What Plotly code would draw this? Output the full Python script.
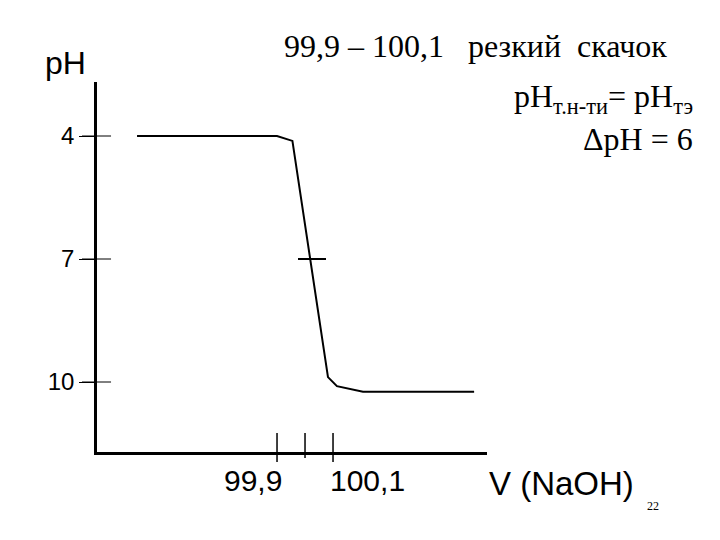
import plotly.graph_objects as go

# Titration curve data (V NaOH, pH) - schematic values
v_curve = [99.40, 99.90, 99.955, 100.082, 100.114, 100.207, 100.604]
ph_curve = [4.0, 4.0, 4.12, 9.88, 10.10, 10.24, 10.24]

# equivalence point mark
eq_v = [99.975, 100.075]
eq_ph = [7.0, 7.0]

# axis ticks
y_ticks = [4, 7, 10]
y_tick_labels = ["4", "7", "10"]
x_ticks = [99.9, 100.0, 100.1]
x_tick_labels = ["99,9", "", "100,1"]

x_range = [99.257, 100.65]
y_range = [11.707, 2.683]

fig = go.Figure()
fig.add_trace(go.Scatter(x=v_curve, y=ph_curve, mode="lines",
                         line=dict(color="black", width=2), showlegend=False,
                         hoverinfo="skip"))
fig.add_trace(go.Scatter(x=eq_v, y=eq_ph, mode="lines",
                         line=dict(color="black", width=2), showlegend=False,
                         hoverinfo="skip"))

shapes = []
for yt in y_ticks:
    shapes.append(dict(type="line", xref="paper", yref="y", x0=-0.0385, x1=0.036,
                       y0=yt, y1=yt, line=dict(color="black", width=1)))
for xt, lab in zip(x_ticks, x_tick_labels):
    y0 = -0.027 if lab else -0.016
    shapes.append(dict(type="line", xref="x", yref="paper", x0=xt, x1=xt,
                       y0=y0, y1=0.0514, line=dict(color="black", width=1.5)))

annotations = []
for xt, lab in zip(x_ticks, x_tick_labels):
    if not lab:
        continue
    if xt < 100:
        annotations.append(dict(x=xt, y=-0.078, xref="x", yref="paper", text=lab,
                                xanchor="right", yanchor="middle", xshift=7, showarrow=False,
                                font=dict(family="Liberation Sans, Arial", size=30, color="black")))
    else:
        annotations.append(dict(x=xt, y=-0.078, xref="x", yref="paper", text=lab,
                                xanchor="left", yanchor="middle", xshift=-5, showarrow=False,
                                font=dict(family="Liberation Sans, Arial", size=30, color="black")))

annotations += [
    dict(x=1.0, y=-0.084, xref="paper", yref="paper", text="V (NaOH)", xanchor="left",
         yanchor="middle", showarrow=False,
         font=dict(family="Liberation Sans, Arial", size=33, color="black")),
    dict(x=-0.0795, y=1.051, xref="paper", yref="paper", text="pH", xanchor="center",
         yanchor="middle", showarrow=False,
         font=dict(family="Liberation Sans, Arial", size=32, color="black")),
    dict(x=0.474, y=1.096, xref="paper", yref="paper",
         text="99,9 – 100,1\u00a0\u00a0\u00a0резкий\u00a0\u00a0скачок", xanchor="left",
         yanchor="middle", showarrow=False,
         font=dict(family="Liberation Serif, Times New Roman", size=32, color="black")),
    dict(x=1.533, y=0.955, xref="paper", yref="paper",
         text="pH<sub>т.н-ти</sub>= pH<sub>тэ</sub>", xanchor="right",
         yanchor="middle", showarrow=False,
         font=dict(family="Liberation Serif, Times New Roman", size=32, color="black")),
    dict(x=1.533, y=0.846, xref="paper", yref="paper",
         text="ΔpH = 6", xanchor="right",
         yanchor="middle", showarrow=False,
         font=dict(family="Liberation Serif, Times New Roman", size=32, color="black")),
    dict(x=1.425, y=-0.146, xref="paper", yref="paper", text="22", xanchor="center",
         yanchor="middle", showarrow=False,
         font=dict(family="Liberation Serif, Times New Roman", size=12, color="black")),
]

# page body has an 8px default margin, so the figure is offset by 8px
fig.update_layout(
    width=720, height=540,
    margin=dict(l=89, r=241, t=74, b=96),
    paper_bgcolor="white", plot_bgcolor="white",
    shapes=shapes, annotations=annotations,
    xaxis=dict(range=x_range, showgrid=False, zeroline=False, showline=True,
               linecolor="black", linewidth=2.5, showticklabels=False, ticks=""),
    yaxis=dict(range=y_range, showgrid=False, zeroline=False, showline=True,
               linecolor="black", linewidth=2.5, tickvals=y_ticks, ticktext=y_tick_labels,
               ticks="outside", ticklen=15, tickcolor="black", tickwidth=1,
               tickfont=dict(family="Liberation Sans, Arial", size=24, color="black")),
)

fig.write_html("out.html")
